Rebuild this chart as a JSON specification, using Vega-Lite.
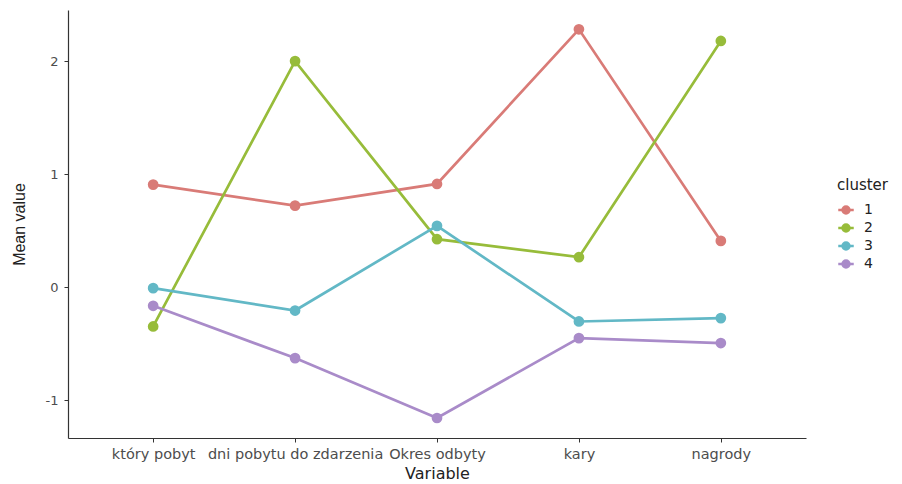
{
  "$schema": "https://vega.github.io/schema/vega-lite/v6.json",
  "autosize": {"type": "none"},
  "width": 738,
  "height": 428,
  "padding": {"left": 68, "top": 10, "right": 96, "bottom": 46},
  "background": "white",
  "config": {
    "view": {"stroke": null},
    "font": "Liberation Sans"
  },
  "data": {
    "values": [
      {"Variable": "który pobyt", "cluster": "1", "value": 0.907},
      {"Variable": "dni pobytu do zdarzenia", "cluster": "1", "value": 0.721},
      {"Variable": "Okres odbyty", "cluster": "1", "value": 0.913},
      {"Variable": "kary", "cluster": "1", "value": 2.281},
      {"Variable": "nagrody", "cluster": "1", "value": 0.409},
      {"Variable": "który pobyt", "cluster": "2", "value": -0.348},
      {"Variable": "dni pobytu do zdarzenia", "cluster": "2", "value": 2.0},
      {"Variable": "Okres odbyty", "cluster": "2", "value": 0.424},
      {"Variable": "kary", "cluster": "2", "value": 0.265},
      {"Variable": "nagrody", "cluster": "2", "value": 2.178},
      {"Variable": "który pobyt", "cluster": "3", "value": -0.009},
      {"Variable": "dni pobytu do zdarzenia", "cluster": "3", "value": -0.207},
      {"Variable": "Okres odbyty", "cluster": "3", "value": 0.542},
      {"Variable": "kary", "cluster": "3", "value": -0.304},
      {"Variable": "nagrody", "cluster": "3", "value": -0.274},
      {"Variable": "który pobyt", "cluster": "4", "value": -0.165},
      {"Variable": "dni pobytu do zdarzenia", "cluster": "4", "value": -0.628},
      {"Variable": "Okres odbyty", "cluster": "4", "value": -1.158},
      {"Variable": "kary", "cluster": "4", "value": -0.451},
      {"Variable": "nagrody", "cluster": "4", "value": -0.495}
    ]
  },
  "mark": {"type": "line", "strokeWidth": 2.7, "point": {"filled": true, "size": 115, "opacity": 1}},
  "encoding": {
    "x": {
      "field": "Variable",
      "type": "nominal",
      "sort": ["który pobyt", "dni pobytu do zdarzenia", "Okres odbyty", "kary", "nagrody"],
      "scale": {"type": "point", "padding": 0.6},
      "axis": {
        "title": "Variable",
        "titleFont": "DejaVu Sans",
        "titleFontSize": 16,
        "titleFontWeight": "normal",
        "titleColor": "#222222",
        "titlePadding": 5,
        "labelAngle": 0,
        "labelFont": "DejaVu Sans",
        "labelFontSize": 14.5,
        "labelColor": "#4D4D4D",
        "labelOverlap": false,
        "labelBound": false,
        "labelPadding": 5,
        "domainColor": "#333333",
        "domainWidth": 1.2,
        "tickColor": "#333333",
        "tickSize": 4,
        "grid": false
      }
    },
    "y": {
      "field": "value",
      "type": "quantitative",
      "scale": {"domain": [-1.335, 2.452], "nice": false, "zero": false},
      "axis": {
        "title": "Mean value",
        "titleFontSize": 16,
        "titleFontWeight": "normal",
        "titleColor": "#222222",
        "titlePadding": 18,
        "values": [-1, 0, 1, 2],
        "labelExpr": "replace(datum.label, '−', '-')",
        "labelFont": "DejaVu Sans",
        "labelFontSize": 13,
        "labelColor": "#4D4D4D",
        "labelPadding": 6,
        "domainColor": "#333333",
        "domainWidth": 1.2,
        "tickColor": "#333333",
        "tickSize": 4,
        "grid": false
      }
    },
    "color": {
      "field": "cluster",
      "type": "nominal",
      "scale": {"domain": ["1", "2", "3", "4"], "range": ["#D97B77", "#97BC3A", "#62B8C6", "#A98BC9"]},
      "legend": {
        "title": "cluster",
        "orient": "none",
        "legendX": 769,
        "legendY": 168,
        "titleFont": "DejaVu Sans",
        "titleFontSize": 15,
        "titleFontWeight": "normal",
        "titleColor": "#222222",
        "titlePadding": 8,
        "labelFont": "DejaVu Sans",
        "labelFontSize": 14,
        "labelColor": "#222222",
        "symbolType": "M -1 0 L 1 0 M -0.45 0 A 0.45 0.45 0 1 1 0.45 0 A 0.45 0.45 0 1 1 -0.45 0 Z",
        "symbolSize": 240,
        "symbolStrokeWidth": 2.5,
        "rowPadding": 0,
        "labelOffset": 9
      }
    }
  }
}
